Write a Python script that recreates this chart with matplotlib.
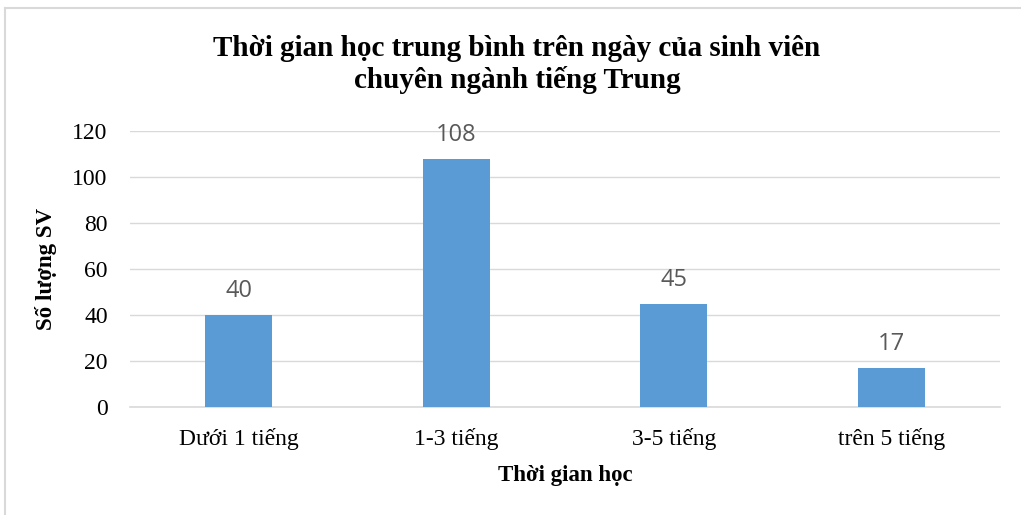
import matplotlib
matplotlib.use("Agg")
import matplotlib.pyplot as plt
from matplotlib.lines import Line2D

categories = ["Dưới 1 tiếng", "1-3 tiếng", "3-5 tiếng", "trên 5 tiếng"]
values = [40, 108, 45, 17]
yticks = [0, 20, 40, 60, 80, 100, 120]

W, H = 1021, 515
fig = plt.figure(figsize=(W / 100, H / 100), dpi=100)
serif = ["Liberation Serif", "DejaVu Serif"]

ax = fig.add_axes([130 / W, 1 - 407 / H, (1000 - 130) / W, (407 - 131) / H])
x = list(range(len(categories)))
ax.bar(x, values, width=0.31, color="#5B9BD5", zorder=3)
ax.set_xlim(-0.5, len(categories) - 0.5)
ax.set_ylim(0, 120)
ax.set_yticks(yticks)
ax.set_xticks(x)
ax.set_xticklabels(categories, fontfamily=serif, fontsize=17)
ax.set_yticklabels([str(t) for t in yticks], fontfamily=serif, fontsize=17)
ax.grid(axis="y", color="#D9D9D9", linewidth=1, zorder=0)
for s in ["top", "right", "left"]:
    ax.spines[s].set_visible(False)
ax.spines["bottom"].set_color("#D9D9D9")
ax.spines["bottom"].set_linewidth(1.2)
ax.tick_params(axis="y", length=0, pad=16)
ax.tick_params(axis="x", length=0, pad=15)

for xi, v in zip(x, values):
    ax.annotate(str(v), (xi, v), xytext=(0, 8.5), textcoords="offset points",
                ha="center", va="bottom", fontsize=17, color="#595959",
                fontfamily=["Open Sans", "DejaVu Sans"])

ax.set_xlabel("Thời gian học", fontfamily=serif, fontsize=16.5, fontweight="bold", labelpad=11)
ax.set_ylabel("Số lượng SV", fontfamily=serif, fontsize=16.5, fontweight="bold", labelpad=11)

fig.text(517 / W, 1 - 64.5 / H, "Thời gian học trung bình trên ngày của sinh viên\nchuyên ngành tiếng Trung",
         ha="center", va="center", fontfamily=serif, fontsize=21, fontweight="bold",
         linespacing=1.22)

fig.add_artist(Line2D([4.5 / W, 4.5 / W], [0, 1 - 7.5 / H], transform=fig.transFigure,
                      color="#D9D9D9", linewidth=1.5))
fig.add_artist(Line2D([4.5 / W, 1], [1 - 7.5 / H, 1 - 7.5 / H], transform=fig.transFigure,
                      color="#D9D9D9", linewidth=1.5))

fig.savefig("out.png", dpi=100)
